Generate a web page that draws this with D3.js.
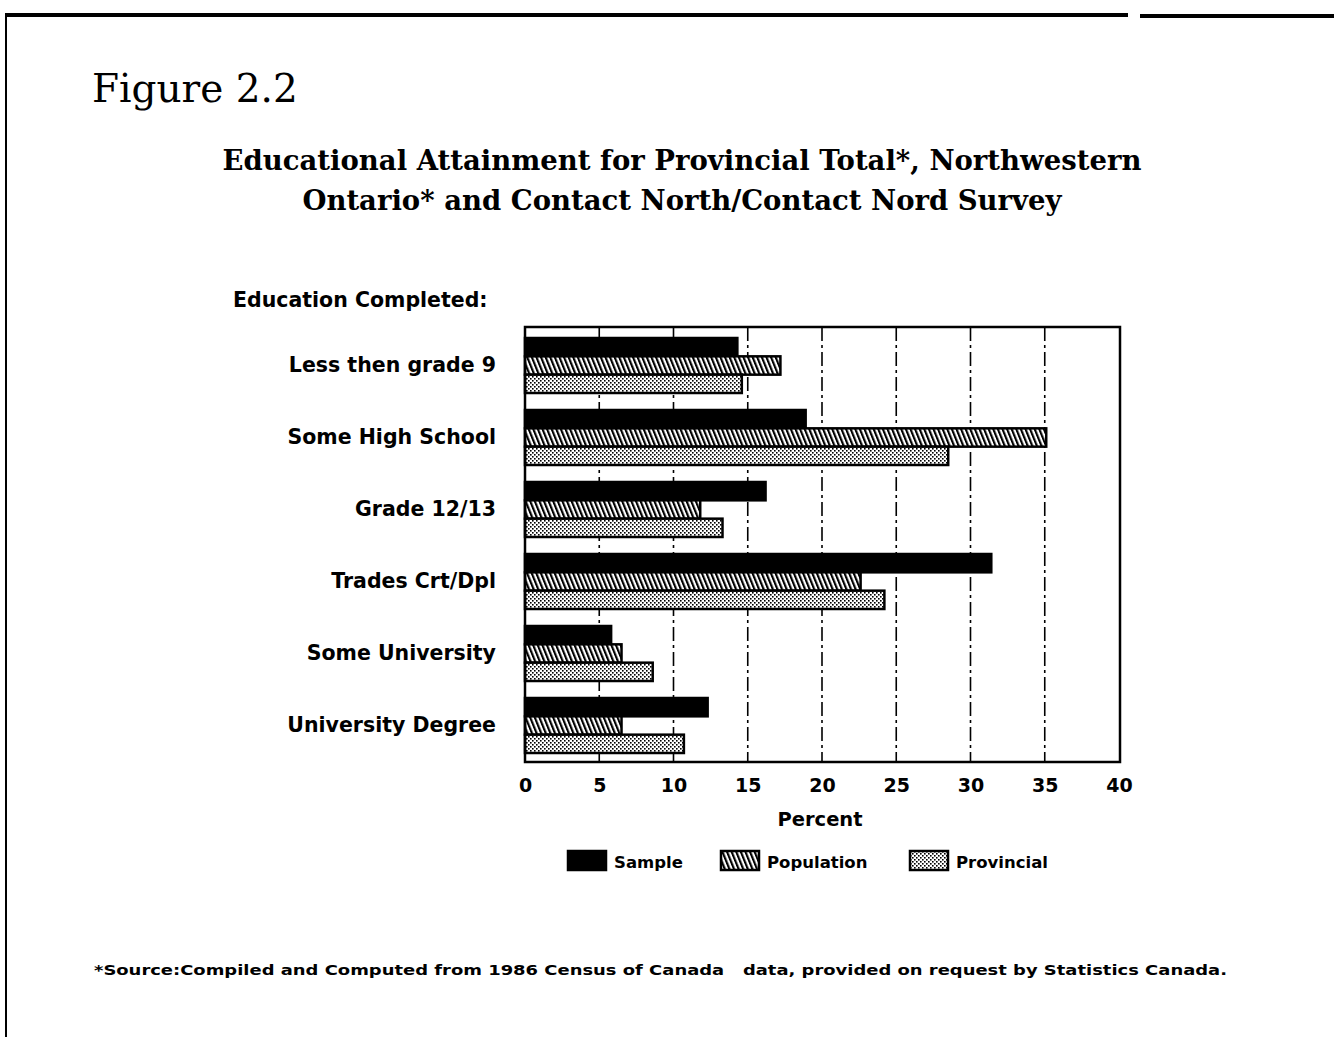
<!DOCTYPE html>
<html>
<head>
<meta charset="utf-8">
<script src="https://cdn.jsdelivr.net/npm/d3@7"></script>
<style>
  html, body { margin: 0; padding: 0; background: #fff; }
  svg { display: block; }
</style>
</head>
<body>
<svg id="chart" width="1334" height="1037"></svg>
<script>
// Education completed, percent of respondents / population
const categories = ["Less then grade 9", "Some High School", "Grade 12/13", "Trades Crt/Dpl", "Some University", "University Degree"];
const series = ["Sample", "Population", "Provincial"];
const sampleValues = [14.3, 18.9, 16.2, 31.4, 5.8, 12.3];
const populationValues = [17.2, 35.1, 11.8, 22.6, 6.5, 6.5];
const provincialValues = [14.6, 28.5, 13.3, 24.2, 8.6, 10.7];
const xTicks = [0, 5, 10, 15, 20, 25, 30, 35, 40];

const valuesBySeries = { Sample: sampleValues, Population: populationValues, Provincial: provincialValues };

const svg = d3.select("#chart");
const W = 1334, H = 1037;
svg.append("rect").attr("width", W).attr("height", H).attr("fill", "#fff");

// fill patterns
const defs = svg.append("defs");
const hatch = defs.append("pattern")
  .attr("id", "hatch").attr("patternUnits", "userSpaceOnUse")
  .attr("width", 4.6).attr("height", 40)
  .attr("patternTransform", "skewX(22)");
hatch.append("rect").attr("width", 4.6).attr("height", 40).attr("fill", "#fff");
hatch.append("rect").attr("width", 2.3).attr("height", 40).attr("fill", "#000");

const dots = defs.append("pattern")
  .attr("id", "dots").attr("patternUnits", "userSpaceOnUse")
  .attr("width", 4).attr("height", 4);
dots.append("rect").attr("width", 4).attr("height", 4).attr("fill", "#fff");
dots.append("rect").attr("x", 0).attr("y", 0).attr("width", 1.6).attr("height", 1.6).attr("fill", "#000");
dots.append("rect").attr("x", 2).attr("y", 2).attr("width", 1.6).attr("height", 1.6).attr("fill", "#000");

const fills = { Sample: "#000", Population: "url(#hatch)", Provincial: "url(#dots)" };

// page frame
svg.append("line").attr("x1", 5).attr("x2", 1128).attr("y1", 15).attr("y2", 15)
  .attr("stroke", "#000").attr("stroke-width", 4);
svg.append("line").attr("x1", 1140).attr("x2", 1334).attr("y1", 16).attr("y2", 16)
  .attr("stroke", "#000").attr("stroke-width", 4);
svg.append("line").attr("x1", 6).attr("x2", 6).attr("y1", 14).attr("y2", 1037)
  .attr("stroke", "#000").attr("stroke-width", 2);

const serif = "'DejaVu Serif', serif";
const sans = "'DejaVu Sans', sans-serif";

// headings
svg.append("text").attr("x", 92).attr("y", 102)
  .attr("font-family", serif).attr("font-size", 39).attr("fill", "#000")
  .text("Figure 2.2");
const subtitle = ["Educational Attainment for Provincial Total*, Northwestern",
                  "Ontario* and Contact North/Contact Nord Survey"];
svg.append("g").selectAll("text").data(subtitle).join("text")
  .attr("x", 682).attr("y", (d, i) => 170 + i * 40)
  .attr("text-anchor", "middle")
  .attr("font-family", serif).attr("font-size", 27.5).attr("font-weight", "bold").attr("fill", "#000")
  .text(d => d);

svg.append("text").attr("x", 233).attr("y", 307)
  .attr("font-family", sans).attr("font-size", 20.5).attr("font-weight", "bold")
  .text("Education Completed:");

// scales
const x = d3.scaleLinear().domain([0, 40]).range([525, 1119]);
const y = d3.scaleBand().domain(categories).range([329.5, 761.5])
  .paddingInner(17 / 72).paddingOuter(17 / 144);
const ySub = d3.scaleBand().domain(series).range([0, y.bandwidth()]);

const plotTop = 327, plotBottom = 762;

// dashed grid lines
svg.append("g").selectAll("line").data(xTicks.filter(t => t > 0 && t < 40)).join("line")
  .attr("x1", d => x(d)).attr("x2", d => x(d))
  .attr("y1", plotTop).attr("y2", plotBottom)
  .attr("stroke", "#000").attr("stroke-width", 1.6)
  .attr("stroke-dasharray", "14,4,3,4");

// bars
const rows = [];
categories.forEach((c, i) => series.forEach(s => rows.push({ cat: c, s, v: valuesBySeries[s][i] })));
svg.append("g").selectAll("rect").data(rows).join("rect")
  .attr("x", x(0))
  .attr("y", d => y(d.cat) + ySub(d.s))
  .attr("width", d => x(d.v) - x(0))
  .attr("height", ySub.bandwidth())
  .attr("fill", d => fills[d.s])
  .attr("stroke", "#000").attr("stroke-width", 2.5);

// plot frame
svg.append("rect").attr("x", x(0)).attr("y", plotTop)
  .attr("width", 1120 - x(0)).attr("height", plotBottom - plotTop)
  .attr("fill", "none").attr("stroke", "#000").attr("stroke-width", 2.5);

// category labels
const yAxis = d3.axisLeft(y).tickSize(0).tickPadding(29);
const gy = svg.append("g").attr("transform", `translate(${x(0)},0)`).call(yAxis);
gy.select(".domain").remove();
gy.selectAll("text").attr("font-family", sans).attr("font-size", 20.5)
  .attr("font-weight", "bold").attr("fill", "#000");

// value axis
const xAxis = d3.axisBottom(x).tickValues(xTicks).tickSize(0).tickPadding(17).tickFormat(d3.format("d"));
const gx = svg.append("g").attr("transform", `translate(0,${plotBottom})`).call(xAxis);
gx.select(".domain").remove();
gx.selectAll("text").attr("font-family", sans).attr("font-size", 19)
  .attr("font-weight", "bold").attr("fill", "#000");

svg.append("text").attr("x", 820).attr("y", 826).attr("text-anchor", "middle")
  .attr("font-family", sans).attr("font-size", 19.5).attr("font-weight", "bold")
  .text("Percent");

// legend
const legendX = { Sample: 568, Population: 721, Provincial: 910 };
const lg = svg.append("g").selectAll("g").data(series).join("g")
  .attr("transform", d => `translate(${legendX[d]},851)`);
lg.append("rect").attr("width", 38).attr("height", 19)
  .attr("fill", d => fills[d]).attr("stroke", "#000").attr("stroke-width", 2.5);
lg.append("text").attr("x", 46).attr("y", 17)
  .attr("font-family", sans).attr("font-size", 16.5).attr("font-weight", "bold")
  .text(d => d);

// source note
svg.append("text").attr("x", 94).attr("y", 975)
  .attr("font-family", sans).attr("font-size", 14.5).attr("font-weight", "bold")
  .attr("textLength", 1133).attr("lengthAdjust", "spacingAndGlyphs")
  .attr("xml:space", "preserve")
  .text("*Source:Compiled and Computed from 1986 Census of Canada   data, provided on request by Statistics Canada.");
</script>
</body>
</html>
